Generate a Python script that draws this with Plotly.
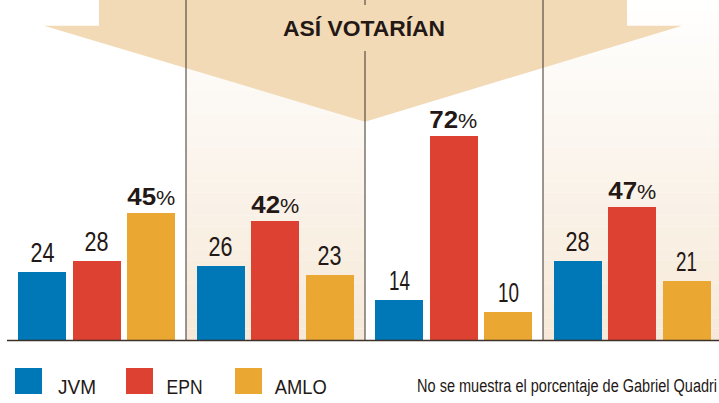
import json
import plotly.graph_objects as go

# ---- data ----
groups = [0, 1, 2, 3]
series_names = ["JVM", "EPN", "AMLO"]
jvm = [24, 26, 14, 28]
epn = [28, 42, 72, 47]
amlo = [45, 23, 10, 21]
series_values = [jvm, epn, amlo]
colors = ["#0077B6", "#DC4132", "#EAA832"]
title_text = "ASÍ VOTARÍAN"
note_text = "No se muestra el porcentaje de Gabriel Quadri"

# ---- layout constants ----
W, H = 719, 403
BASE = 340.0           # baseline pixel row
PITCH = 178.5          # px per group
C0 = 96.5              # pixel centre of first group
offsets = [-54.5 / PITCH, 0.0, 54.5 / PITCH]
bar_w = 48 / PITCH
TXT = "#231815"
LINE = "#3d322b"
FONT = "Liberation Sans, Arial, sans-serif"


def px(x):
    return x / W


def py(y):
    return (BASE - y) / BASE


fig = go.Figure()

for name, vals, col, off in zip(series_names, series_values, colors, offsets):
    fig.add_trace(go.Bar(
        x=[g + off for g in groups], y=vals, width=bar_w, name=name,
        marker=dict(color=col, line=dict(width=0)), showlegend=False,
        hoverinfo="skip"))

shapes = []
# gradient panels behind groups 2 and 4
bands = 30
for gx0, gx1 in [(186, 365), (543, 719)]:
    for i in range(bands):
        t = (i + 0.5) / bands
        r = int(round(255 - t * (255 - 246)))
        g_ = int(round(255 - t * (255 - 233)))
        b = int(round(255 - t * (255 - 216)))
        shapes.append(dict(type="rect", xref="paper", yref="paper",
                           x0=px(gx0), x1=px(gx1),
                           y0=py(BASE * (i + 1) / bands), y1=py(BASE * i / bands),
                           fillcolor=f"rgb({r},{g_},{b})", line=dict(width=0),
                           layer="below"))

# arrow
pts = [(99, -5), (627, -5), (627, 25.7), (682, 25.7), (365, 121.7), (44, 25.7), (99, 25.7)]
path = "M " + " L ".join(f"{px(a):.5f},{py(b):.5f}" for a, b in pts) + " Z"
shapes.append(dict(type="path", xref="paper", yref="paper", path=path,
                   fillcolor="#F2DAB7", line=dict(width=0), layer="below"))

# dividers
for xx in [186, 543]:
    shapes.append(dict(type="line", xref="paper", yref="paper", x0=px(xx), x1=px(xx),
                       y0=py(BASE), y1=py(-5), line=dict(color=LINE, width=1), layer="below"))
shapes.append(dict(type="line", xref="paper", yref="paper", x0=px(365), x1=px(365),
                   y0=py(BASE), y1=py(51), line=dict(color=LINE, width=1), layer="below"))
shapes.append(dict(type="line", xref="paper", yref="paper", x0=px(365), x1=px(365),
                   y0=py(5), y1=py(-5), line=dict(color=LINE, width=1), layer="below"))
# baseline
shapes.append(dict(type="line", xref="paper", yref="paper", x0=px(7), x1=px(719),
                   y0=py(BASE + 0.5), y1=py(BASE + 0.5), line=dict(color=LINE, width=1.6)))

# legend squares
leg_x = [15, 126, 235]
leg_tx = [58, 166, 275]
leg_w = [38, 36, 52]
for col, x0 in zip(colors, leg_x):
    shapes.append(dict(type="rect", xref="paper", yref="paper", x0=px(x0), x1=px(x0 + 27),
                       y0=py(394), y1=py(368), fillcolor=col, line=dict(width=0)))

annotations = []
targets = []   # rendered text widths (px) per annotation
# value labels
for vals, off in zip(series_values, offsets):
    for g, v in zip(groups, vals):
        top = max(s[g] for s in series_values)
        if v == top:
            txt = f"<b>{v}</b><span style='font-size:20px'>%</span>"
            annotations.append(dict(x=g + off, y=v, xref="x", yref="y", text=txt,
                                    showarrow=False, yanchor="bottom", yshift=1,
                                    font=dict(family=FONT, size=24, color=TXT)))
            targets.append(48)
        else:
            annotations.append(dict(x=g + off, y=v, xref="x", yref="y", text=str(v),
                                    showarrow=False, yanchor="bottom", yshift=2,
                                    font=dict(family=FONT, size=28, color=TXT)))
            targets.append(21 if "1" in str(v) else 24)

annotations.append(dict(x=px(364), y=py(28.5), xref="paper", yref="paper",
                        text=f"<b>{title_text}</b>",
                        showarrow=False, xanchor="center", yanchor="middle",
                        font=dict(family=FONT, size=22, color=TXT)))
targets.append(162)
for name, tx, w in zip(series_names, leg_tx, leg_w):
    annotations.append(dict(x=px(tx + w / 2), y=py(386), xref="paper", yref="paper", text=name,
                            showarrow=False, xanchor="center", yanchor="middle",
                            font=dict(family=FONT, size=21, color=TXT)))
    targets.append(w)
note_w = 300
annotations.append(dict(x=px(417 + note_w / 2), y=py(386), xref="paper", yref="paper",
                        text=note_text, showarrow=False, xanchor="center", yanchor="middle",
                        font=dict(family=FONT, size=18, color=TXT)))
targets.append(note_w)

fig.update_layout(
    width=W, height=H, margin=dict(l=0, r=0, t=0, b=H - BASE),
    paper_bgcolor="white", plot_bgcolor="white",
    xaxis=dict(range=[-C0 / PITCH, (W - C0) / PITCH], visible=False, fixedrange=True),
    yaxis=dict(range=[0, 120], visible=False, fixedrange=True),
    shapes=shapes, annotations=annotations, bargap=0, showlegend=False,
)

js = """
document.body.style.margin = '0';
var gd = document.getElementById('{plot_id}');
var T = TARGETS;
gd.querySelectorAll('g.annotation').forEach(function (g) {
  var i = +g.getAttribute('data-index');
  var w = T[i];
  var t = g.querySelector('text.annotation-text');
  if (w && t) {
    t.setAttribute('textLength', w);
    t.setAttribute('lengthAdjust', 'spacingAndGlyphs');
  }
});
""".replace("TARGETS", json.dumps(targets))

fig.write_html("out.html", post_script=js, config={"displayModeBar": False})
